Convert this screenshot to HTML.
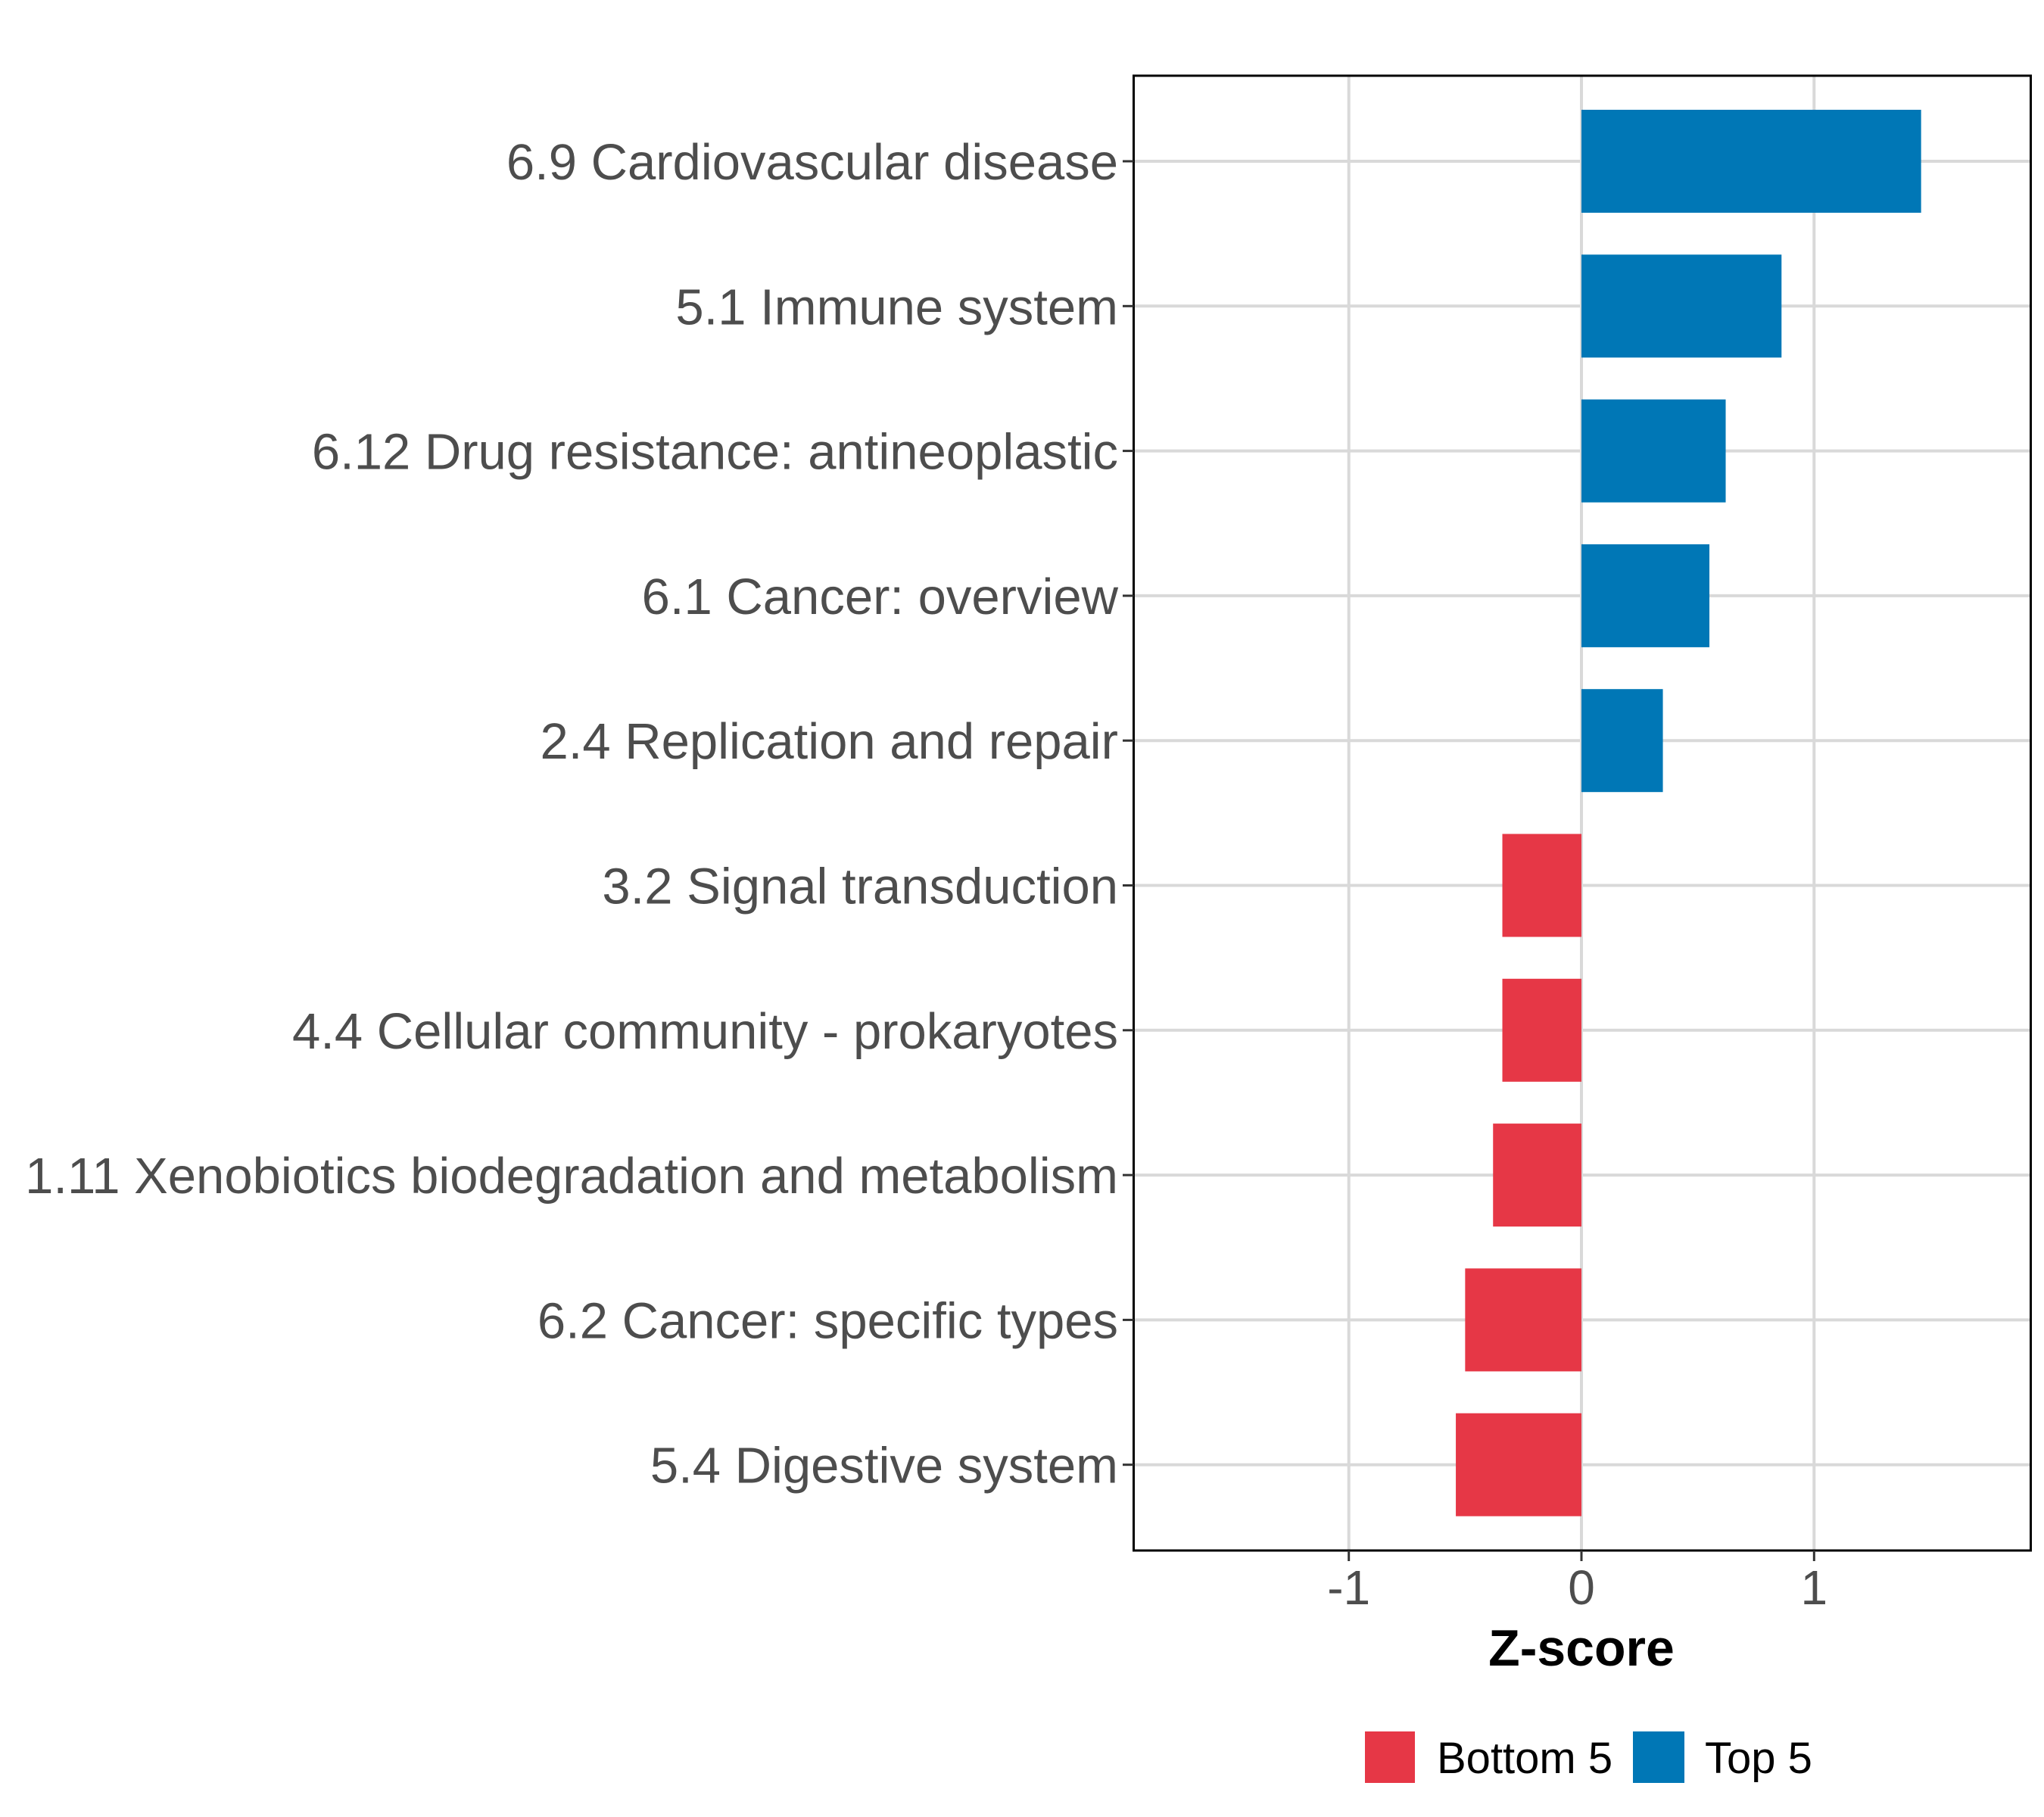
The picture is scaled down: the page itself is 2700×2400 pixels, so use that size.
<!DOCTYPE html>
<html><head><meta charset="utf-8"><style>
html,body{margin:0;padding:0;background:#fff;}
svg{display:block;font-family:"Liberation Sans",Arial,sans-serif;}
</style></head><body>
<svg id="chart" width="2700" height="2400" viewBox="0 0 2700 2400" xmlns="http://www.w3.org/2000/svg">
<rect x="0" y="0" width="2700" height="2400" fill="#fff"/>
<g id="grid"></g>
<g id="bars"></g>
<rect x="1497.5" y="100" width="1185" height="1948" fill="none" stroke="#000" stroke-width="3"/>
<g id="yaxis"></g>
<g id="xaxis"></g>
<text x="2089" y="2200" text-anchor="middle" font-size="68" font-weight="bold" fill="#000">Z-score</text>
<g>
  <rect x="1803" y="2287" width="66" height="68" fill="#E63746"/>
  <text x="1898" y="2342" font-size="58" fill="#000">Bottom 5</text>
  <rect x="2157" y="2287" width="68" height="68" fill="#0077B6"/>
  <text x="2252" y="2342" font-size="58" fill="#000">Top 5</text>
</g>
</svg>
<script>
const categories = ["6.9 Cardiovascular disease","5.1 Immune system","6.12 Drug resistance: antineoplastic","6.1 Cancer: overview","2.4 Replication and repair","3.2 Signal transduction","4.4 Cellular community - prokaryotes","1.11 Xenobiotics biodegradation and metabolism","6.2 Cancer: specific types","5.4 Digestive system"];
const values = [1.46, 0.86, 0.62, 0.55, 0.35, -0.34, -0.34, -0.38, -0.50, -0.54];
const groups = ["Top 5","Top 5","Top 5","Top 5","Top 5","Bottom 5","Bottom 5","Bottom 5","Bottom 5","Bottom 5"];
const xTicks = [-1, 0, 1];
const xTickLabels = ["-1", "0", "1"];

const NS = "http://www.w3.org/2000/svg";
const X0 = 2089, UNIT = 307.3;
function xScale(v){ return X0 + v*UNIT; }
const Y0 = 213, STEP = 191.3;
function yScale(i){ return Y0 + i*STEP; }
const BAR_H = 136;
const colors = {"Top 5":"#0077B6","Bottom 5":"#E63746"};
function mk(tag, attrs, parent){ const e=document.createElementNS(NS,tag); for(const k in attrs) e.setAttribute(k,attrs[k]); parent.appendChild(e); return e; }

const grid=document.getElementById('grid'), bars=document.getElementById('bars'), yaxis=document.getElementById('yaxis'), xaxis=document.getElementById('xaxis');
xTicks.forEach((t,i)=>{
  const l=mk('line',{x1:xScale(t),x2:xScale(t),y1:100,y2:2048,stroke:'#d9d9d9','stroke-width':4},grid);
  
  
  const tk=mk('line',{x1:xScale(t),x2:xScale(t),y1:2048,y2:2062,stroke:'#333','stroke-width':3},xaxis);
  
  
  const tx=mk('text',{x:xScale(t),y:2119,'text-anchor':'middle','font-size':64,fill:'#4d4d4d'},xaxis);
  tx.textContent=xTickLabels[i];
  
  
});
categories.forEach((c,i)=>{
  const y=yScale(i);
  const g=mk('line',{x1:1497.5,x2:2682.5,y1:y,y2:y,stroke:'#d9d9d9','stroke-width':4},grid);
  
  
  const v=values[i];
  const x1=Math.min(xScale(0),xScale(v)), w=Math.abs(xScale(v)-xScale(0));
  const b=mk('rect',{x:x1,y:y-BAR_H/2,width:w,height:BAR_H,fill:colors[groups[i]]},bars);
  
  
  const tk=mk('line',{x1:1483,x2:1497.5,y1:y,y2:y,stroke:'#333','stroke-width':3},yaxis);
  
  
  const tx=mk('text',{x:1477,y:y+24,'text-anchor':'end','font-size':67,fill:'#4d4d4d'},yaxis);
  tx.textContent=c;
  
  
});
</script>
</body></html>
